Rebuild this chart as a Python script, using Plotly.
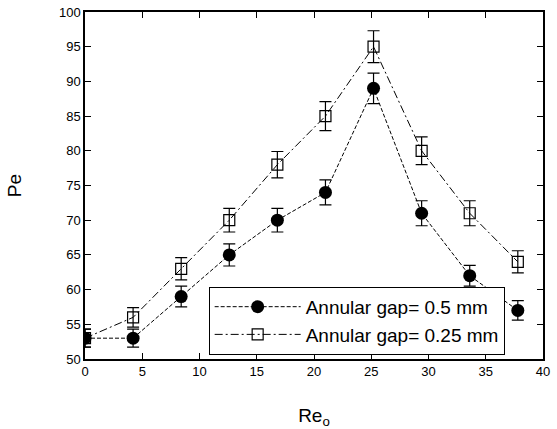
import plotly.graph_objects as go

re_o = [0, 4.2, 8.4, 12.6, 16.8, 21.0, 25.2, 29.4, 33.6, 37.8]
pe_05 = [53, 53, 59, 65, 70, 74, 89, 71, 62, 57]
err_05 = [1.3, 1.3, 1.5, 1.6, 1.7, 1.8, 2.2, 1.8, 1.5, 1.4]
pe_025 = [53, 56, 63, 70, 78, 85, 95, 80, 71, 64]
err_025 = [1.3, 1.4, 1.6, 1.7, 1.9, 2.1, 2.3, 2.0, 1.8, 1.6]

fig = go.Figure()
fig.add_trace(go.Scatter(
    x=re_o, y=pe_05, mode="lines+markers", name="Annular gap= 0.5 mm",
    line=dict(color="black", width=1, dash="4px,2px"),
    marker=dict(symbol="circle", size=13, color="black"),
    error_y=dict(type="data", array=err_05, color="black", thickness=1.2, width=6),
))
fig.add_trace(go.Scatter(
    x=re_o, y=pe_025, mode="lines+markers", name="Annular gap= 0.25 mm",
    line=dict(color="black", width=1, dash="8px,3px,2px,3px"),
    marker=dict(symbol="square-open", size=11, color="black", line=dict(width=1.2)),
    error_y=dict(type="data", array=err_025, color="black", thickness=1.2, width=6),
))

font_family = "Liberation Sans, Arial"
axis_common = dict(
    showgrid=False, zeroline=False, showline=True, linecolor="black", linewidth=1.5,
    mirror="ticks", ticks="inside", ticklen=6, tickcolor="black", tickwidth=1,
    tickfont=dict(family=font_family, size=13, color="black"), automargin=False,
)
fig.update_xaxes(range=[0, 40], dtick=5,
                 title=dict(text="Re<sub>o</sub>", font=dict(family=font_family, size=19, color="black"), standoff=32),
                 **axis_common)
fig.update_yaxes(range=[50, 100], dtick=5,
                 title=dict(text="Pe", font=dict(family=font_family, size=19, color="black"), standoff=32),
                 **axis_common)

fig.update_layout(
    width=557, height=429,
    margin=dict(l=85, r=14, t=12, b=70),
    plot_bgcolor="white", paper_bgcolor="white",
    legend=dict(x=0.27, y=0.012, xanchor="left", yanchor="bottom",
                bordercolor="black", borderwidth=1, bgcolor="white",
                font=dict(family=font_family, size=19, color="black"),
                itemwidth=86, tracegroupgap=0),
)
fig.write_html("out.html")
